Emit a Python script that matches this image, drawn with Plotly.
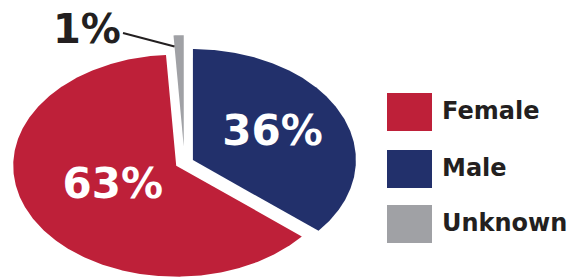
import numpy as np
import plotly.graph_objects as go

# ---- data ----
labels = ["Male", "Female", "Unknown"]
values = [36, 63, 1]
pct_text = ["36%", "63%", "1%"]
colors = ["#22306B", "#BE2039", "#A0A1A5"]
legend_order = ["Female", "Male", "Unknown"]

# ---- style ----
pulls = [0.057, 0.057, 0.15]
label_r = [0.54, 0.437, None]
W, H = 581, 277
CX, CY, RX, RY = 184.5, 162.8, 163.0, 111.0   # pixel centre / radii of the (squashed) pie
TXT = "#231F20"
FONT = "DejaVu Sans"

xr = [-CX / RX, (W - CX) / RX]
yr = [(CY - H) / RY, CY / RY]

fig = go.Figure()

total = float(sum(values))
start = 0.0
mids = []
starts = []
for lab, v, col, p in zip(labels, values, colors, pulls):
    a0 = start
    a1 = start + 360.0 * v / total
    mid = np.radians((a0 + a1) / 2)
    ox, oy = p * np.sin(mid), p * np.cos(mid)
    th = np.radians(np.linspace(a0, a1, max(4, int((a1 - a0) * 2))))
    xs = np.concatenate([[ox], ox + np.sin(th), [ox]])
    ys = np.concatenate([[oy], oy + np.cos(th), [oy]])
    fig.add_trace(go.Scatter(x=xs, y=ys, fill="toself", fillcolor=col, mode="lines",
                             line=dict(width=0, color=col), hoverinfo="skip",
                             showlegend=False))
    mids.append(((a0 + a1) / 2, p))
    starts.append(a0)
    start = a1

# in-slice percentage labels
for i, (t, r) in enumerate(zip(pct_text, label_r)):
    if r is None:
        continue
    m, p = mids[i]
    m = np.radians(m)
    fig.add_trace(go.Scatter(x=[(p + r) * np.sin(m)], y=[(p + r) * np.cos(m)], mode="text",
                             text=[t], textposition="middle center",
                             textfont=dict(family=FONT, size=42, color="white", weight="bold"),
                             hoverinfo="skip", showlegend=False))

# outside label for the tiny slice with a leader line
ui = labels.index("Unknown")
m, p = mids[ui]
a_s = np.radians(starts[ui])
mr = np.radians(m)
ex = p * np.sin(mr) + 0.9 * np.sin(a_s)
ey = p * np.cos(mr) + 0.9 * np.cos(a_s)
lx, ly = (123 - CX) / RX, (CY - 33) / RY
fig.add_trace(go.Scatter(x=[lx, ex], y=[ly, ey], mode="lines",
                         line=dict(color=TXT, width=2), hoverinfo="skip", showlegend=False))
fig.add_annotation(x=(87 - CX) / RX, y=(CY - 29) / RY, text=pct_text[ui], showarrow=False,
                   font=dict(family=FONT, size=40, color=TXT, weight="bold"),
                   xanchor="center", yanchor="middle")

# custom legend (large swatches)
sw_top = [93, 150, 205]
for name, top in zip(legend_order, sw_top):
    col = colors[labels.index(name)]
    fig.add_shape(type="rect", xref="paper", yref="paper",
                  x0=387 / W, x1=432 / W, y0=1 - top / H, y1=1 - (top + 38) / H,
                  fillcolor=col, line=dict(width=0))
    fig.add_annotation(xref="paper", yref="paper", x=440 / W, y=1 - (top + 18) / H,
                       text=name, showarrow=False, xanchor="left", yanchor="middle",
                       font=dict(family=FONT, size=24, color=TXT, weight="bold"))

fig.update_layout(width=W, height=H, margin=dict(l=0, r=0, t=0, b=0),
                  paper_bgcolor="white", plot_bgcolor="white",
                  xaxis=dict(range=xr, visible=False, fixedrange=True),
                  yaxis=dict(range=yr, visible=False, fixedrange=True),
                  showlegend=False)
fig.write_html("out.html", config={"displayModeBar": False},
               post_script="document.body.style.margin='0';document.body.style.overflow='hidden';")
